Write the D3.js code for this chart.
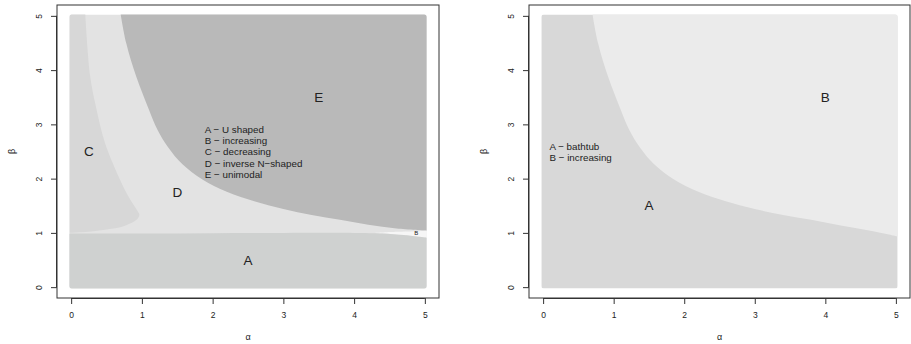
<!DOCTYPE html>
<html>
<head>
<meta charset="utf-8">
<script src="https://cdn.jsdelivr.net/npm/d3@7"></script>
<style>
  html, body { margin: 0; padding: 0; background: #ffffff; }
  svg { display: block; }
  text { font-family: "Liberation Sans", Arial, Helvetica, sans-serif; fill: #222; }
</style>
</head>
<body>
<svg id="chart" width="911" height="344"></svg>
<script>
// Hazard-shape regions in the (alpha, beta) parameter plane.
const ticks = [0, 1, 2, 3, 4, 5];
const gridMin = -0.025, gridMax = 5.025;

// Left panel boundaries
const eAlpha = [0.70, 0.78, 0.92, 1.10, 1.22, 1.37, 1.57, 1.85, 2.20, 2.60, 3.00, 3.40, 3.80, 4.20, 4.60, 5.03];
const eBeta  = [5.03, 4.49, 3.88, 3.27, 2.90, 2.58, 2.27, 1.99, 1.76, 1.58, 1.44, 1.33, 1.24, 1.15, 1.08, 1.04];
const cAlpha = [0.20, 0.27, 0.36, 0.48, 0.67, 0.81, 0.93, 0.965, 0.95, 0.90, 0.73, 0.45, 0.13, -0.03];
const cBeta  = [5.03, 3.88, 3.27, 2.65, 2.04, 1.67, 1.42, 1.33, 1.28, 1.22, 1.12, 1.055, 1.01, 1.00];
const aAlpha = [5.03, 4.70, 4.40, 4.00, 3.00, 2.00, 1.00, -0.03];
const aBeta  = [0.91, 0.96, 0.99, 1.00, 1.00, 0.995, 0.99, 0.99];
const bAlpha = [4.30, 4.60, 4.85, 5.03];
const bBeta  = [1.00, 1.02, 1.03, 1.04];

// Right panel boundary
const rAlpha = [0.70, 0.78, 0.92, 1.10, 1.22, 1.37, 1.57, 1.85, 2.20, 2.60, 3.00, 3.40, 3.80, 4.20, 4.60, 4.90, 5.03];
const rBeta  = [5.03, 4.49, 3.88, 3.27, 2.90, 2.58, 2.27, 1.99, 1.76, 1.58, 1.44, 1.33, 1.24, 1.14, 1.05, 0.97, 0.93];

const leftLabels  = [{t: "E", a: 3.5, b: 3.5}, {t: "C", a: 0.25, b: 2.5}, {t: "D", a: 1.5, b: 1.75}, {t: "A", a: 2.5, b: 0.5}];
const leftLegend  = ["A \u2212 U shaped", "B \u2212 increasing", "C \u2212 decreasing", "D \u2212 inverse N\u2212shaped", "E \u2212 unimodal"];
const rightLabels = [{t: "B", a: 4.0, b: 3.5}, {t: "A", a: 1.5, b: 1.5}];
const rightLegend = ["A \u2212 bathtub", "B \u2212 increasing"];

const colors = {
  left:  {A: "#cfd1d0", B: "#f6f6f6", C: "#d7d7d7", D: "#e3e3e3", E: "#b9b9b9"},
  right: {A: "#d8d8d8", B: "#ebebeb"}
};

const svg = d3.select("#chart");
const zip = (xs, ys) => xs.map((v, i) => [v, ys[i]]);

function panel(id, box, draw) {
  const x = d3.scaleLinear().domain([-0.2, 5.2]).range([box.left, box.right]);
  const y = d3.scaleLinear().domain([-0.2, 5.2]).range([box.bottom, box.top]);
  const g = svg.append("g");

  const clipId = "clip-" + id;
  g.append("clipPath").attr("id", clipId)
    .append("rect")
    .attr("x", x(gridMin)).attr("y", y(gridMax))
    .attr("width", x(gridMax) - x(gridMin)).attr("height", y(gridMin) - y(gridMax))
    .attr("rx", 2.5).attr("ry", 2.5);

  const regions = g.append("g").attr("clip-path", `url(#${clipId})`);
  const curve = d3.line().x(d => x(d[0])).y(d => y(d[1])).curve(d3.curveCatmullRom.alpha(0.5));
  const pt = (a, b) => `${x(a)},${y(b)}`;
  draw(regions, x, y, curve, pt);

  // frame
  g.append("rect")
    .attr("x", box.left).attr("y", box.top)
    .attr("width", box.right - box.left).attr("height", box.bottom - box.top)
    .attr("fill", "none").attr("stroke", "#333").attr("stroke-width", 1);

  const fmt = d3.format("d");

  // x axis
  const xa = g.append("g").attr("transform", `translate(0,${box.bottom})`)
    .call(d3.axisBottom(x).tickValues(ticks).tickFormat(fmt).tickSize(6).tickPadding(8));
  xa.select(".domain").attr("d", `M${x(0)},0.5H${x(5)}`).attr("stroke", "#333");
  xa.selectAll(".tick line").attr("stroke", "#333");
  xa.selectAll(".tick text").attr("font-size", 8.5).attr("fill", "#222")
    .attr("font-family", "Liberation Sans, Arial, sans-serif");

  // y axis (rotated labels)
  const ya = g.append("g").attr("transform", `translate(${box.left},0)`)
    .call(d3.axisLeft(y).tickValues(ticks).tickFormat(fmt).tickSize(6).tickPadding(0));
  ya.select(".domain").attr("d", `M-0.5,${y(0)}V${y(5)}`).attr("stroke", "#333");
  ya.selectAll(".tick line").attr("stroke", "#333");
  ya.selectAll(".tick text")
    .attr("font-size", 8.5).attr("fill", "#222")
    .attr("font-family", "Liberation Sans, Arial, sans-serif")
    .attr("x", null).attr("dy", null)
    .attr("text-anchor", "middle")
    .attr("transform", "translate(-18,0) rotate(-90)")
    .attr("dominant-baseline", "central");

  const cx = (box.left + box.right) / 2, cy = (box.top + box.bottom) / 2;
  g.append("text").attr("x", cx).attr("y", 340).attr("text-anchor", "middle")
    .attr("font-size", 9).text("\u03b1");
  g.append("text").attr("transform", `translate(${box.left - 45},${cy}) rotate(-90)`)
    .attr("text-anchor", "middle").attr("dominant-baseline", "central")
    .attr("font-size", 9).text("\u03b2");

  return {g, x, y};
}

// ---------- left panel ----------
const L = panel("left", {left: 57, right: 439, top: 5, bottom: 298}, (r, x, y, curve, pt) => {
  const c = colors.left;
  r.append("rect").attr("x", x(gridMin)).attr("y", y(gridMax))
    .attr("width", x(gridMax) - x(gridMin)).attr("height", y(gridMin) - y(gridMax))
    .attr("fill", c.D);
  // C: decreasing
  r.append("path").attr("fill", c.C)
    .attr("d", curve(zip(cAlpha, cBeta)) + `L${pt(gridMin, 0.995)}L${pt(gridMin, 5.1)}L${pt(0.2, 5.1)}Z`);
  // E: unimodal
  r.append("path").attr("fill", c.E)
    .attr("d", curve(zip(eAlpha, eBeta)) + `L${pt(5.1, 1.04)}L${pt(5.1, 5.1)}L${pt(0.7, 5.1)}Z`);
  // B: increasing (thin wedge)
  r.append("path").attr("fill", c.B)
    .attr("d", curve(zip(bAlpha, bBeta)) + `L${pt(5.1, 1.04)}L${pt(5.1, 0.90)}L${pt(4.7, 0.96)}Z`);
  // A: U shaped
  r.append("path").attr("fill", c.A)
    .attr("d", curve(zip(aAlpha, aBeta)) + `L${pt(-0.1, 0.99)}L${pt(-0.1, -0.1)}L${pt(5.1, -0.1)}L${pt(5.1, 0.91)}Z`);
});

L.g.selectAll("text.region").data(leftLabels).join("text").attr("class", "region")
  .attr("x", d => L.x(d.a)).attr("y", d => L.y(d.b))
  .attr("text-anchor", "middle").attr("dominant-baseline", "central")
  .attr("font-size", 13.5).text(d => d.t);
L.g.append("text").attr("x", L.x(4.88)).attr("y", L.y(1.0))
  .attr("text-anchor", "middle").attr("dominant-baseline", "central")
  .attr("font-size", 6).attr("fill", "#444").text("B");
L.g.selectAll("text.legend").data(leftLegend).join("text").attr("class", "legend")
  .attr("x", L.x(1.89)).attr("y", (d, i) => L.y(2.91) + i * 11.25)
  .attr("dominant-baseline", "central").attr("font-size", 9.8).text(d => d);

// ---------- right panel ----------
const R = panel("right", {left: 529, right: 910, top: 5, bottom: 298}, (r, x, y, curve, pt) => {
  const c = colors.right;
  r.append("rect").attr("x", x(gridMin)).attr("y", y(gridMax))
    .attr("width", x(gridMax) - x(gridMin)).attr("height", y(gridMin) - y(gridMax))
    .attr("fill", c.A);
  r.append("path").attr("fill", c.B)
    .attr("d", curve(zip(rAlpha, rBeta)) + `L${pt(5.1, 0.92)}L${pt(5.1, 5.1)}L${pt(0.7, 5.1)}Z`);
});

R.g.selectAll("text.region").data(rightLabels).join("text").attr("class", "region")
  .attr("x", d => R.x(d.a)).attr("y", d => R.y(d.b))
  .attr("text-anchor", "middle").attr("dominant-baseline", "central")
  .attr("font-size", 13.5).text(d => d.t);
R.g.selectAll("text.legend").data(rightLegend).join("text").attr("class", "legend")
  .attr("x", R.x(0.09)).attr("y", (d, i) => R.y(2.6) + i * 11.3)
  .attr("dominant-baseline", "central").attr("font-size", 9.8).text(d => d);
</script>
</body>
</html>
